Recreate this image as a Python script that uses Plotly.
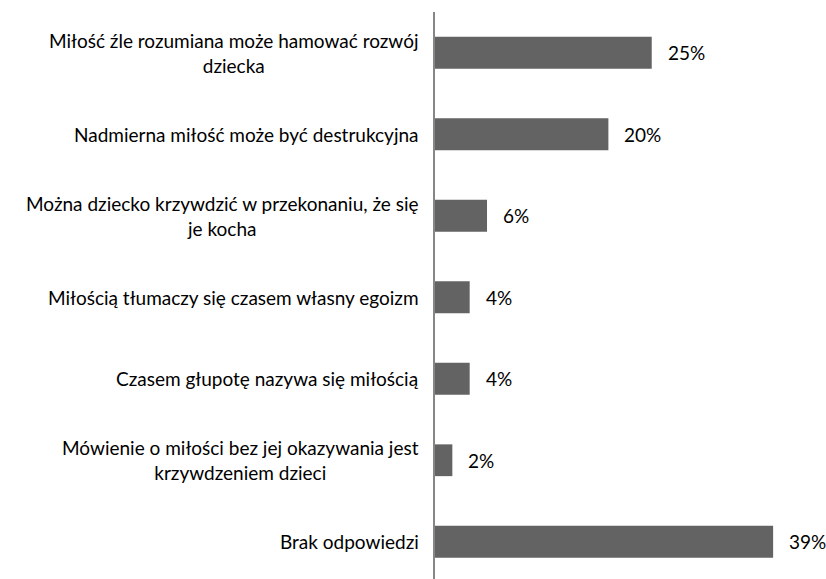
import plotly.graph_objects as go

categories = [
    "Miłość źle rozumiana może hamować rozwój<br>dziecka",
    "Nadmierna miłość może być destrukcyjna",
    "Można dziecko krzywdzić w przekonaniu, że się<br>je kocha",
    "Miłością tłumaczy się czasem własny egoizm",
    "Czasem głupotę nazywa się miłością",
    "Mówienie o miłości bez jej okazywania jest<br>krzywdzeniem dzieci",
    "Brak odpowiedzi",
]
values = [25, 20, 6, 4, 4, 2, 39]
value_labels = ["25%", "20%", "6%", "4%", "4%", "2%", "39%"]

FONT = "Lato"
FSIZE = 19

fig = go.Figure(go.Bar(
    x=values,
    y=categories,
    orientation="h",
    marker=dict(color="#636363", line=dict(width=0)),
    hoverinfo="skip",
))

annotations = []
for cat, v, lab in zip(categories, values, value_labels):
    annotations.append(dict(
        x=v, y=cat, xref="x", yref="y", text=lab, showarrow=False,
        xanchor="left", xshift=14, font=dict(family=FONT, size=FSIZE, color="#000000"),
    ))
    annotations.append(dict(
        x=0, y=cat, xref="paper", yref="y", text=cat, showarrow=False,
        xanchor="right", xshift=-14, align="center",
        font=dict(family=FONT, size=FSIZE, color="#000000"),
    ))

fig.update_layout(
    width=826, height=579,
    margin=dict(l=435, r=0, t=12, b=0),
    paper_bgcolor="white", plot_bgcolor="white",
    bargap=0.61,
    showlegend=False,
    annotations=annotations,
    xaxis=dict(range=[0, 45.1], showgrid=False, zeroline=False,
               showticklabels=False, showline=False, ticks=""),
    yaxis=dict(categoryorder="array", categoryarray=categories,
               range=[6.457, -0.5], showgrid=False, zeroline=False,
               showticklabels=False, ticks="",
               showline=True, linecolor="#868686", linewidth=1.5),
)

fig.write_html("out.html", config={"displayModeBar": False},
               post_script="document.body.style.margin='0';")
